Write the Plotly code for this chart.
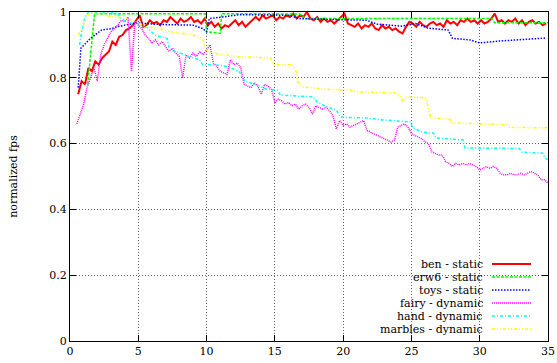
import numpy as np
import plotly.graph_objects as go

# ---------------- data ----------------
SERIES_NAMES = ["ben - static", "erw6 - static", "toys - static",
                "fairy - dynamic", "hand - dynamic", "marbles - dynamic"]

# ben - static : sampled every 0.25 s starting at 0.6 s
BEN_T0, BEN_DT = 0.6, 0.25
BEN_Y = [0.75, 0.79, 0.78, 0.83, 0.82, 0.85, 0.84, 0.86, 0.87, 0.88,
         0.91, 0.90, 0.925, 0.93, 0.945, 0.95, 0.96, 0.975, 0.99, 0.955,
         0.96, 0.975, 0.965, 0.97, 0.96, 0.975, 0.97, 0.985, 0.975, 0.965,
         0.98, 0.97, 0.975, 0.985, 0.97, 0.975, 0.965, 0.98, 0.96, 0.97,
         0.955, 0.965, 0.95, 0.96, 0.955, 0.965, 0.975, 0.96, 0.97, 0.955,
         0.965, 0.975, 0.985, 0.975, 0.99, 0.98, 0.985, 0.99, 0.975, 0.985,
         0.98, 0.99, 0.985, 0.995, 0.98, 0.99, 0.985, 1.0, 0.98, 0.975,
         0.985, 0.97, 0.98, 0.97, 0.975, 0.965, 0.975, 0.985, 0.995, 0.965,
         0.96, 0.955, 0.965, 0.95, 0.96, 0.955, 0.965, 0.95, 0.945, 0.96,
         0.95, 0.955, 0.945, 0.95, 0.94, 0.935, 0.955, 0.97, 0.965, 0.955,
         0.97, 0.96, 0.955, 0.965, 0.97, 0.96, 0.965, 0.955, 0.975, 0.965,
         0.97, 0.96, 0.975, 0.97, 0.98, 0.97, 0.975, 0.965, 0.975, 0.965,
         0.97, 0.98, 0.995, 0.97, 0.975, 0.965, 0.975, 0.97, 0.98, 0.965,
         0.975, 0.96, 0.97, 0.975, 0.965, 0.97, 0.96, 0.965]

# erw6 - static
ERW6_X = [1.3, 1.8, 9.9, 10.0, 11.0, 11.1, 16.8, 17.3, 30.9, 31.1, 35.0]
ERW6_Y = [0.78, 0.995, 0.995, 0.94, 0.935, 0.995, 0.994, 0.98, 0.98, 0.967, 0.967]

# toys - static
TOYS_X = [0.6, 0.8, 1.5, 2.3, 3.1, 3.4, 4.9, 6.6, 9.0, 9.7, 10.0, 10.2,
          11.2, 12.4, 16.0, 16.8, 18.3, 20.0, 21.7, 22.5, 24.3, 25.3, 26.2,
          27.7, 28.0, 29.3, 30.0, 31.5, 34.9]
TOYS_Y = [0.77, 0.89, 0.92, 0.945, 0.95, 0.955, 0.967, 0.962, 0.96, 0.95,
          0.94, 0.98, 0.985, 0.992, 0.99, 0.98, 0.978, 0.976, 0.975, 0.963,
          0.957, 0.965, 0.951, 0.945, 0.92, 0.915, 0.906, 0.912, 0.921]

# fairy - dynamic : sampled every 0.25 s starting at 0.5 s
FAIRY_T0, FAIRY_DT = 0.5, 0.25
FAIRY_Y = [0.66, 0.69, 0.72, 0.77, 0.80, 0.83, 0.79, 0.87, 0.90, 0.92,
           0.94, 0.95, 0.96, 0.975, 0.97, 0.985, 0.82, 0.975, 0.96, 0.95,
           0.93, 0.92, 0.905, 0.915, 0.90, 0.91, 0.895, 0.88, 0.89, 0.875,
           0.865, 0.80, 0.87, 0.86, 0.875, 0.865, 0.88, 0.87, 0.885, 0.90,
           0.845, 0.835, 0.82, 0.815, 0.81, 0.855, 0.84, 0.845, 0.83, 0.78,
           0.775, 0.77, 0.785, 0.775, 0.75, 0.78, 0.775, 0.765, 0.725, 0.735,
           0.73, 0.72, 0.725, 0.715, 0.72, 0.705, 0.715, 0.72, 0.71, 0.69,
           0.715, 0.71, 0.705, 0.71, 0.70, 0.685, 0.645, 0.67, 0.655, 0.66,
           0.65, 0.655, 0.66, 0.665, 0.67, 0.64, 0.635, 0.63, 0.625, 0.62,
           0.615, 0.61, 0.605, 0.61, 0.65, 0.655, 0.66, 0.65, 0.63, 0.625,
           0.62, 0.615, 0.605, 0.60, 0.575, 0.57, 0.565, 0.565, 0.545, 0.54,
           0.53, 0.54, 0.535, 0.54, 0.535, 0.54, 0.535, 0.53, 0.52, 0.525,
           0.53, 0.525, 0.53, 0.525, 0.51, 0.505, 0.505, 0.51, 0.505, 0.505,
           0.51, 0.505, 0.51, 0.515, 0.51, 0.505, 0.49, 0.49, 0.48]

# hand - dynamic
HAND_X = [0.7, 0.9, 1.1, 1.3, 3.5, 3.7, 4.2, 4.9, 5.6, 6.2, 7.1, 7.3, 8.1,
          8.8, 9.5, 9.7, 11.0, 11.7, 12.4, 12.8, 13.7, 14.4, 15.2, 15.4,
          16.8, 17.8, 18.1, 18.8, 19.5, 19.8, 21.7, 22.9, 24.9, 25.1, 25.8,
          26.6, 26.8, 28.8, 28.9, 32.9, 33.1, 34.6, 34.8, 35.0]
HAND_Y = [0.90, 0.95, 0.985, 0.997, 0.997, 0.98, 0.97, 0.96, 0.955, 0.93,
          0.92, 0.885, 0.875, 0.863, 0.855, 0.84, 0.838, 0.832, 0.818, 0.79,
          0.778, 0.765, 0.762, 0.748, 0.744, 0.742, 0.726, 0.712, 0.702,
          0.68, 0.678, 0.672, 0.666, 0.648, 0.635, 0.632, 0.617, 0.611,
          0.587, 0.585, 0.574, 0.571, 0.556, 0.55]

# marbles - dynamic
MARBLES_X = [0.6, 0.9, 1.2, 1.5, 2.5, 2.7, 3.4, 4.2, 4.9, 5.6, 6.4, 7.3,
             8.1, 9.0, 9.7, 9.9, 10.2, 11.5, 12.4, 13.9, 14.7, 14.9, 16.3,
             16.6, 16.7, 17.1, 17.8, 18.8, 20.5, 21.0, 23.9, 24.2, 24.4,
             24.7, 26.0, 26.2, 26.4, 27.8, 28.0, 32.0, 32.2, 35.0]
MARBLES_Y = [0.93, 0.95, 0.99, 0.997, 0.995, 0.988, 0.985, 0.98, 0.97,
             0.955, 0.951, 0.94, 0.936, 0.93, 0.92, 0.89, 0.876, 0.869,
             0.864, 0.862, 0.86, 0.84, 0.84, 0.815, 0.785, 0.772, 0.769,
             0.765, 0.763, 0.757, 0.754, 0.742, 0.728, 0.742, 0.739, 0.717,
             0.678, 0.674, 0.663, 0.657, 0.649, 0.648]

X_TICKS = [0, 5, 10, 15, 20, 25, 30, 35]
Y_TICKS = [0, 0.2, 0.4, 0.6, 0.8, 1]
Y_TICK_LABELS = ["0", "0.2", "0.4", "0.6", "0.8", "1"]
Y_TITLE = "normalized fps"

# ---------------- styles ----------------
COLORS = ["#ff0000", "#00ff00", "#0000ff", "#ff00ff", "#00ffff", "#ffff00"]
DASHES = ["solid", "3px,1.5px", "1.5px,1.5px", "1px,1px",
          "3px,2px,1px,2px", "3px,2px,1px,2px,1px,2px"]
WIDTHS = [2, 1.5, 1.5, 1.5, 1.5, 1.5]
FONT = "DejaVu Serif"
FSIZE = 11

ben_x = BEN_T0 + BEN_DT * np.arange(len(BEN_Y))
fairy_x = FAIRY_T0 + FAIRY_DT * np.arange(len(FAIRY_Y))

xs = [ben_x, ERW6_X, TOYS_X, fairy_x, HAND_X, MARBLES_X]
ys = [BEN_Y, ERW6_Y, TOYS_Y, FAIRY_Y, HAND_Y, MARBLES_Y]

fig = go.Figure()
for name, x, y, c, d, w in zip(SERIES_NAMES, xs, ys, COLORS, DASHES, WIDTHS):
    fig.add_trace(go.Scatter(x=x, y=y, mode="lines", name=name,
                             line=dict(color=c, dash=d, width=w),
                             showlegend=False, hoverinfo="skip"))

W, H = 557, 363
ML, MR, MT, MB = 70, 9, 12, 22
pw, ph = W - ML - MR, H - MT - MB

def px_to_paper_x(px):
    return (px - ML) / pw

def px_to_paper_y(py):
    return (H - MB - py) / ph

KEY_ROW0, KEY_ROW_STEP = 264, 13

# opaque key box (covers grid, like gnuplot)
shapes = [dict(type="rect", xref="paper", yref="paper",
               x0=px_to_paper_x(337), x1=1, y0=0, y1=px_to_paper_y(256),
               fillcolor="white", line=dict(width=0), layer="between")]
annotations = []
for i, (name, c, d, w) in enumerate(zip(SERIES_NAMES, COLORS, DASHES, WIDTHS)):
    py = KEY_ROW0 + KEY_ROW_STEP * i
    shapes.append(dict(type="line", xref="paper", yref="paper",
                       x0=px_to_paper_x(492), x1=px_to_paper_x(531),
                       y0=px_to_paper_y(py), y1=px_to_paper_y(py),
                       line=dict(color=c, dash=d, width=w), layer="above"))
    annotations.append(dict(xref="paper", yref="paper",
                            x=px_to_paper_x(484), y=px_to_paper_y(py),
                            text=name, showarrow=False, xanchor="right",
                            yanchor="middle", borderpad=0,
                            font=dict(family=FONT, size=FSIZE, color="black")))

axis_common = dict(showline=True, linecolor="black", linewidth=1,
                   mirror="ticks", ticks="inside", ticklen=6,
                   tickcolor="black", tickwidth=1,
                   showgrid=True, gridcolor="#666666", griddash="1px,2px",
                   gridwidth=1, zeroline=False, automargin=False,
                   tickfont=dict(family=FONT, size=FSIZE, color="black"))

fig.update_layout(
    width=W, height=H,
    margin=dict(l=ML, r=MR, t=MT, b=MB, pad=0),
    paper_bgcolor="white", plot_bgcolor="white",
    xaxis=dict(range=[0, 35], tickvals=X_TICKS, **axis_common),
    yaxis=dict(range=[0, 1], tickvals=Y_TICKS, ticktext=Y_TICK_LABELS,
               title=dict(text=Y_TITLE, standoff=29,
                          font=dict(family=FONT, size=FSIZE, color="black")),
               **axis_common),
    shapes=shapes, annotations=annotations,
)

fig.write_html("out.html", config={"displayModeBar": False},
               post_script="document.body.style.margin='0px';")
